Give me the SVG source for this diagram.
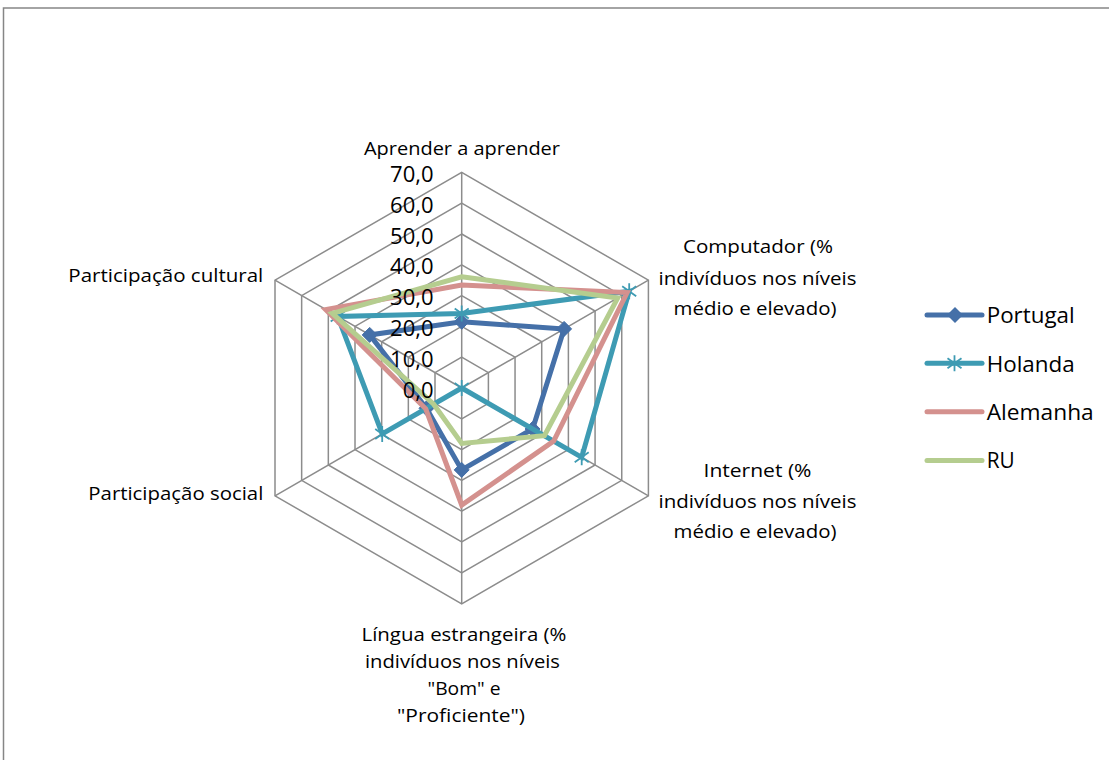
<svg xmlns="http://www.w3.org/2000/svg" width="1109" height="760" viewBox="0 0 1109 760">
<defs>
<style>
.grid{fill:none;stroke:#8c8c8c;stroke-width:1.5}
.lbl{font-family:"Open Sans","Liberation Sans",sans-serif;font-size:18.5px;fill:#000}
.num{font-family:"Open Sans","Liberation Sans",sans-serif;font-size:22px;fill:#000;text-anchor:end}
.leg{font-family:"Open Sans","Liberation Sans",sans-serif;font-size:21.5px;fill:#000}
.s{fill:none;stroke-width:5;stroke-linejoin:miter}
.pt{stroke:#4570a8}
.nl{stroke:#3e9bb3}
.de{stroke:#d4918e}
.ru{stroke:#b5cd8f}
</style>
<path id="dia" d="M0,-7.5 L7.5,0 L0,7.5 L-7.5,0 Z" fill="#4570a8" stroke="#4570a8" stroke-width="1"/>
<path id="star" d="M0,-8 V8 M-7,-5 L7,5 M-7,5 L7,-5" fill="none" stroke="#3e9bb3" stroke-width="1.8"/>
</defs>
<rect x="3.5" y="8" width="1200" height="800" fill="#fff" stroke="#868686" stroke-width="1.5"/>
<g id="grid">
<polygon class="grid" points="461.7,357.2 488.4,372.6 488.4,403.4 461.7,418.8 435,403.4 435,372.6"/>
<polygon class="grid" points="461.7,326.4 515.05,357.2 515.05,418.8 461.7,449.6 408.35,418.8 408.35,357.2"/>
<polygon class="grid" points="461.7,295.6 541.72,341.8 541.72,434.2 461.7,480.4 381.68,434.2 381.68,341.8"/>
<polygon class="grid" points="461.7,264.8 568.39,326.4 568.39,449.6 461.7,511.2 355.01,449.6 355.01,326.4"/>
<polygon class="grid" points="461.7,234 595.07,311 595.07,465 461.7,542 328.33,465 328.33,311"/>
<polygon class="grid" points="461.7,203.2 621.74,295.6 621.74,480.4 461.7,572.8 301.66,480.4 301.66,295.6"/>
<polygon class="grid" points="461.7,172.4 648.41,280.2 648.41,495.8 461.7,603.8 275,495.8 275,280.2"/>
<path class="grid" d="M461.7,388 V172.4 M461.7,388 L648.41,280.2 M461.7,388 L648.41,495.8 M461.7,388 V603.8 M461.7,388 L275,495.8 M461.7,388 L275,280.2"/>
</g>
<g id="series">
<g id="portugal">
<polygon class="s pt" points="461.7,321.8 564.1,328.9 532.6,429 461.7,469.9 426.5,408.3 369.7,334.9"/>
<use href="#dia" x="461.7" y="321.8"/><use href="#dia" x="564.1" y="328.9"/><use href="#dia" x="532.6" y="429"/>
<use href="#dia" x="461.7" y="469.9"/><use href="#dia" x="426.5" y="408.3"/><use href="#dia" x="369.7" y="334.9"/>
</g>
<g id="holanda">
<polygon class="s nl" points="461.7,313.5 629.2,291.3 581.7,457.3 461.7,388 382.2,433.9 337.7,316.4"/>
<use href="#star" x="461.7" y="313.5"/><use href="#star" x="629.2" y="291.3"/><use href="#star" x="581.7" y="457.3"/>
<use href="#star" x="461.7" y="388"/><use href="#star" x="382.2" y="433.9"/><use href="#star" x="337.7" y="316.4"/>
</g>
<g id="alemanha">
<polygon class="s de" points="461.7,285.1 627.1,292.5 553.7,441.1 461.7,505 425.7,408.8 325.7,309.5"/>
</g>
<g id="ru">
<polygon class="s ru" points="461.7,276.8 617.7,297.9 544.4,435.7 461.7,443.4 433.7,404.2 332.3,313.3"/>
</g>
</g>
<g id="scale">
<text class="num" x="433.5" y="181.9">70,0</text>
<text class="num" x="433.5" y="212.7">60,0</text>
<text class="num" x="433.5" y="243.5">50,0</text>
<text class="num" x="433.5" y="274.3">40,0</text>
<text class="num" x="433.5" y="305.1">30,0</text>
<text class="num" x="433.5" y="335.9">20,0</text>
<text class="num" x="433.5" y="366.7">10,0</text>
<text class="num" x="433.5" y="397.5">0,0</text>
</g>
<g id="axis-labels">
<text class="lbl" x="462" y="155" text-anchor="middle" textLength="196" lengthAdjust="spacingAndGlyphs">Aprender a aprender</text>
<g id="lbl-computador">
<text class="lbl" x="758" y="253.3" text-anchor="middle" textLength="150" lengthAdjust="spacingAndGlyphs">Computador (%</text>
<text class="lbl" x="757.5" y="284.5" text-anchor="middle" textLength="198" lengthAdjust="spacingAndGlyphs">indivíduos nos níveis</text>
<text class="lbl" x="755" y="315" text-anchor="middle" textLength="163" lengthAdjust="spacingAndGlyphs">médio e elevado)</text>
</g>
<g id="lbl-internet">
<text class="lbl" x="757.5" y="476.7" text-anchor="middle" textLength="108" lengthAdjust="spacingAndGlyphs">Internet (%</text>
<text class="lbl" x="757.5" y="508" text-anchor="middle" textLength="198" lengthAdjust="spacingAndGlyphs">indivíduos nos níveis</text>
<text class="lbl" x="755" y="538.3" text-anchor="middle" textLength="163" lengthAdjust="spacingAndGlyphs">médio e elevado)</text>
</g>
<g id="lbl-lingua">
<text class="lbl" x="464" y="641" text-anchor="middle" textLength="205" lengthAdjust="spacingAndGlyphs">Língua estrangeira (%</text>
<text class="lbl" x="462.5" y="668" text-anchor="middle" textLength="195" lengthAdjust="spacingAndGlyphs">indivíduos nos níveis</text>
<text class="lbl" x="464" y="695" text-anchor="middle" textLength="73" lengthAdjust="spacingAndGlyphs">"Bom" e</text>
<text class="lbl" x="461" y="722" text-anchor="middle" textLength="128" lengthAdjust="spacingAndGlyphs">"Proficiente")</text>
</g>
<text class="lbl" x="263.3" y="500" text-anchor="end" textLength="175" lengthAdjust="spacingAndGlyphs">Participação social</text>
<text class="lbl" x="263.3" y="281.7" text-anchor="end" textLength="195" lengthAdjust="spacingAndGlyphs">Participação cultural</text>
</g>
<g id="legend">
<g id="leg-portugal">
<line x1="927" y1="315" x2="982" y2="315" stroke="#4570a8" stroke-width="5" stroke-linecap="round"/>
<path d="M955,307 L963,315 L955,323 L947,315 Z" fill="#4570a8"/>
<text class="leg" x="986.7" y="323.3" textLength="88" lengthAdjust="spacingAndGlyphs">Portugal</text>
</g>
<g id="leg-holanda">
<line x1="927" y1="363.3" x2="982" y2="363.3" stroke="#3e9bb3" stroke-width="5" stroke-linecap="round"/>
<use href="#star" x="954.5" y="363.3"/>
<text class="leg" x="986.7" y="371.7" textLength="88" lengthAdjust="spacingAndGlyphs">Holanda</text>
</g>
<g id="leg-alemanha">
<line x1="927" y1="411.7" x2="982" y2="411.7" stroke="#d4918e" stroke-width="5" stroke-linecap="round"/>
<text class="leg" x="986.7" y="419.8" textLength="107" lengthAdjust="spacingAndGlyphs">Alemanha</text>
</g>
<g id="leg-ru">
<line x1="927" y1="460.5" x2="982" y2="460.5" stroke="#b5cd8f" stroke-width="5" stroke-linecap="round"/>
<text class="leg" x="986.7" y="468.2" textLength="28" lengthAdjust="spacingAndGlyphs">RU</text>
</g>
</g>
</svg>
